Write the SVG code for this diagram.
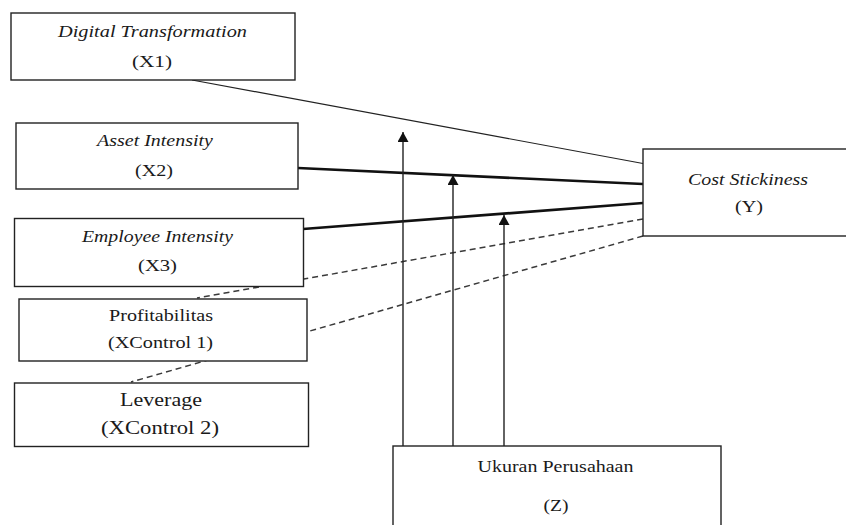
<svg xmlns="http://www.w3.org/2000/svg" width="846" height="525" viewBox="0 0 846 525">
<defs>
<style>
.box{fill:#fff;stroke:#222;stroke-width:1.4}
.t{font-family:"Liberation Serif","Times New Roman",serif;font-size:16.5px;fill:#1a1a1a;text-anchor:middle}
.i{font-style:italic}
.big{font-size:18.5px}
.thin{stroke:#222;stroke-width:1.2;fill:none}
.thick{stroke:#111;stroke-width:2.6;fill:none}
.dash{stroke:#3a3a3a;stroke-width:1.5;stroke-dasharray:6 4;fill:none}
.arr{stroke:#222;stroke-width:1.4;fill:none;marker-end:url(#ah)}
</style>
<marker id="ah" viewBox="0 0 10 11" refX="10" refY="5.5" markerWidth="10" markerHeight="11" markerUnits="userSpaceOnUse" orient="auto">
<path d="M0,0 L10,5.5 L0,11 z" fill="#111"/>
</marker>
</defs>
<rect width="846" height="525" fill="#fff"/>
<g id="connectors">
<line class="thin" x1="192" y1="80" x2="643" y2="163.5"/>
<line class="thick" x1="298" y1="168" x2="643" y2="184"/>
<line class="thick" x1="303" y1="229" x2="643" y2="203"/>
<line class="dash" x1="643" y1="219" x2="197" y2="298"/>
<line class="dash" x1="643" y1="236" x2="131" y2="382"/>
<line class="arr" x1="403" y1="446" x2="403" y2="132"/>
<line class="arr" x1="453" y1="446" x2="453" y2="175"/>
<line class="arr" x1="504" y1="446" x2="504" y2="215"/>
</g>
<g id="X1">
<rect class="box" x="11" y="13" width="284" height="67"/>
<text class="t i" x="152.5" y="37" textLength="189" lengthAdjust="spacingAndGlyphs">Digital Transformation</text>
<text class="t" x="152" y="67" textLength="40" lengthAdjust="spacingAndGlyphs">(X1)</text>
</g>
<g id="X2">
<rect class="box" x="16" y="123" width="282" height="66"/>
<text class="t i" x="155" y="146" textLength="116" lengthAdjust="spacingAndGlyphs">Asset Intensity</text>
<text class="t" x="154" y="176" textLength="38" lengthAdjust="spacingAndGlyphs">(X2)</text>
</g>
<g id="X3">
<rect class="box" x="14.5" y="218.5" width="289" height="68"/>
<text class="t i" x="157.5" y="242" textLength="151" lengthAdjust="spacingAndGlyphs">Employee Intensity</text>
<text class="t" x="157.5" y="271" textLength="39" lengthAdjust="spacingAndGlyphs">(X3)</text>
</g>
<g id="XControl1">
<rect class="box" x="19" y="299" width="288" height="62"/>
<text class="t" x="161" y="321" textLength="104" lengthAdjust="spacingAndGlyphs">Profitabilitas</text>
<text class="t" x="160.5" y="348" textLength="105" lengthAdjust="spacingAndGlyphs">(XControl 1)</text>
</g>
<g id="XControl2">
<rect class="box" x="14.5" y="383" width="294" height="63.5"/>
<text class="t big" x="161" y="406" textLength="82" lengthAdjust="spacingAndGlyphs">Leverage</text>
<text class="t big" x="160" y="434" textLength="118" lengthAdjust="spacingAndGlyphs">(XControl 2)</text>
</g>
<g id="Y">
<rect class="box" x="643" y="149" width="220" height="87"/>
<text class="t i" x="748" y="185" textLength="120" lengthAdjust="spacingAndGlyphs">Cost Stickiness</text>
<text class="t" x="749" y="212" textLength="28" lengthAdjust="spacingAndGlyphs">(Y)</text>
</g>
<g id="Z">
<rect class="box" x="393" y="446" width="328" height="100"/>
<text class="t" x="555.5" y="472" textLength="156" lengthAdjust="spacingAndGlyphs">Ukuran Perusahaan</text>
<text class="t" x="556" y="511" textLength="25" lengthAdjust="spacingAndGlyphs">(Z)</text>
</g>
</svg>
